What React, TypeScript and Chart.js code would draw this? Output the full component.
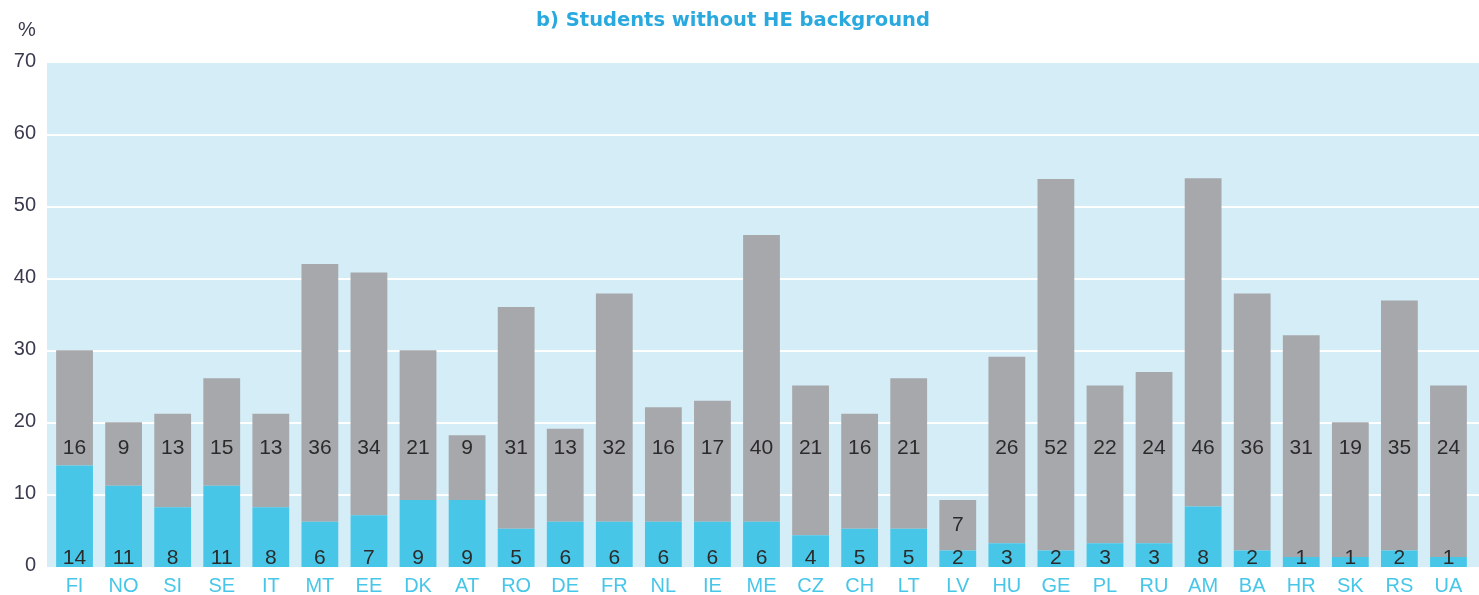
import React, { useEffect, useRef } from "react";
import { Chart, registerables } from "chart.js";

Chart.register(...registerables);

// ---- Data ----
const categories = [
  "FI", "NO", "SI", "SE", "IT", "MT", "EE", "DK", "AT", "RO",
  "DE", "FR", "NL", "IE", "ME", "CZ", "CH", "LT", "LV", "HU",
  "GE", "PL", "RU", "AM", "BA", "HR", "SK", "RS", "UA",
];

// lower (cyan) segment, %
const lowerValues = [
  14.1, 11.3, 8.3, 11.3, 8.3, 6.3, 7.2, 9.3, 9.3, 5.3,
  6.3, 6.3, 6.3, 6.3, 6.3, 4.4, 5.3, 5.3, 2.3, 3.3,
  2.3, 3.3, 3.3, 8.4, 2.3, 1.4, 1.4, 2.3, 1.4,
];

// upper (grey) segment, %
const upperValues = [
  16.0, 8.8, 13.0, 14.9, 13.0, 35.8, 33.7, 20.8, 9.0, 30.8,
  12.9, 31.7, 15.9, 16.8, 39.8, 20.8, 16.0, 20.9, 7.0, 25.9,
  51.6, 21.9, 23.8, 45.6, 35.7, 30.8, 18.7, 34.7, 23.8,
];

const yTicks = [0, 10, 20, 30, 40, 50, 60, 70];

const TITLE = "b) Students without HE background";
const UNIT = "%";

// ---- Styling ----
const W = 1479;
const H = 595;
const PLOT_LEFT = 47;
const CYAN = "#47c6e8";
const GREY = "#a7a8ac";
const BG = "#d5edf7";
const TITLE_COLOR = "#2aa9df";
const TICK_COLOR = "#3a3a4e";
const LABEL_COLOR = "#2b2b2b";
const FONT = "'Liberation Sans', Arial, sans-serif";

const backgroundPlugin = {
  id: "plotBackground",
  beforeDatasetsDraw(chart: any) {
    const { ctx, scales } = chart;
    const y = scales.y;
    const top = y.getPixelForValue(yTicks[yTicks.length - 1]);
    const bottom = y.getPixelForValue(0);
    ctx.save();
    ctx.fillStyle = BG;
    ctx.fillRect(PLOT_LEFT, top, chart.width - PLOT_LEFT, bottom - top);
    ctx.strokeStyle = "#ffffff";
    ctx.lineWidth = 2;
    yTicks.forEach((v) => {
      if (v <= 0 || v >= yTicks[yTicks.length - 1]) return;
      const py = Math.round(y.getPixelForValue(v));
      ctx.beginPath();
      ctx.moveTo(PLOT_LEFT, py);
      ctx.lineTo(chart.width, py);
      ctx.stroke();
    });
    ctx.restore();
  },
};

const labelsPlugin = {
  id: "barLabels",
  afterDatasetsDraw(chart: any) {
    const { ctx, scales } = chart;
    const y = scales.y;
    const meta0 = chart.getDatasetMeta(0);
    ctx.save();
    ctx.font = `21px ${FONT}`;
    ctx.fillStyle = LABEL_COLOR;
    ctx.textAlign = "center";
    ctx.textBaseline = "middle";
    meta0.data.forEach((bar: any, i: number) => {
      const lo = lowerValues[i];
      const up = upperValues[i];
      const total = lo + up;
      const x = bar.x;
      ctx.fillText(String(Math.round(lo)), x, y.getPixelForValue(1.2));
      const upV = total >= 18 ? 16.5 : (lo + total) / 2;
      ctx.fillText(String(Math.round(up)), x, y.getPixelForValue(upV));
    });
    ctx.restore();
  },
  afterDraw(chart: any) {
    const { ctx } = chart;
    ctx.save();
    ctx.textAlign = "center";
    ctx.textBaseline = "middle";
    ctx.font = `bold 19.5px 'DejaVu Sans', sans-serif`;
    ctx.fillStyle = TITLE_COLOR;
    ctx.fillText(TITLE, 733, 21);
    ctx.font = `20px ${FONT}`;
    ctx.fillStyle = TICK_COLOR;
    ctx.fillText(UNIT, 27, 30);
    ctx.restore();
  },
};

export default function App() {
  const canvasRef = useRef<HTMLCanvasElement | null>(null);

  useEffect(() => {
    if (!canvasRef.current) return;
    const chart = new Chart(canvasRef.current, {
      type: "bar",
      data: {
        labels: categories,
        datasets: [
          {
            label: "Lower",
            data: lowerValues,
            backgroundColor: CYAN,
            borderWidth: 0,
            barPercentage: 0.75,
            categoryPercentage: 1,
          },
          {
            label: "Upper",
            data: upperValues,
            backgroundColor: GREY,
            borderWidth: 0,
            barPercentage: 0.75,
            categoryPercentage: 1,
          },
        ],
      },
      options: {
        responsive: false,
        devicePixelRatio: 1,
        animation: false,
        layout: { padding: { top: 63, right: 6, left: 0, bottom: 0 } },
        plugins: {
          legend: { display: false },
          tooltip: { enabled: false },
          title: { display: false },
        },
        scales: {
          x: {
            stacked: true,
            grid: { display: false, drawTicks: false },
            border: { display: false },
            ticks: {
              color: CYAN,
              font: { size: 20, family: FONT },
              padding: 7,
              maxRotation: 0,
              autoSkip: false,
            },
            afterFit(scale: any) {
              scale.height = 28;
            },
          },
          y: {
            stacked: true,
            min: 0,
            max: 70,
            grid: { display: false, drawTicks: false },
            border: { display: false },
            ticks: {
              stepSize: 10,
              color: TICK_COLOR,
              font: { size: 20, family: FONT },
              padding: 14,
              labelOffset: -2,
            },
            afterFit(scale: any) {
              scale.width = 50;
            },
          },
        },
      },
      plugins: [backgroundPlugin, labelsPlugin],
    });
    return () => chart.destroy();
  }, []);

  return (
    <div style={{ position: "fixed", left: 0, top: 0, width: W, height: H, background: "#fff" }}>
      <canvas ref={canvasRef} width={W} height={H} style={{ display: "block" }} />
    </div>
  );
}
